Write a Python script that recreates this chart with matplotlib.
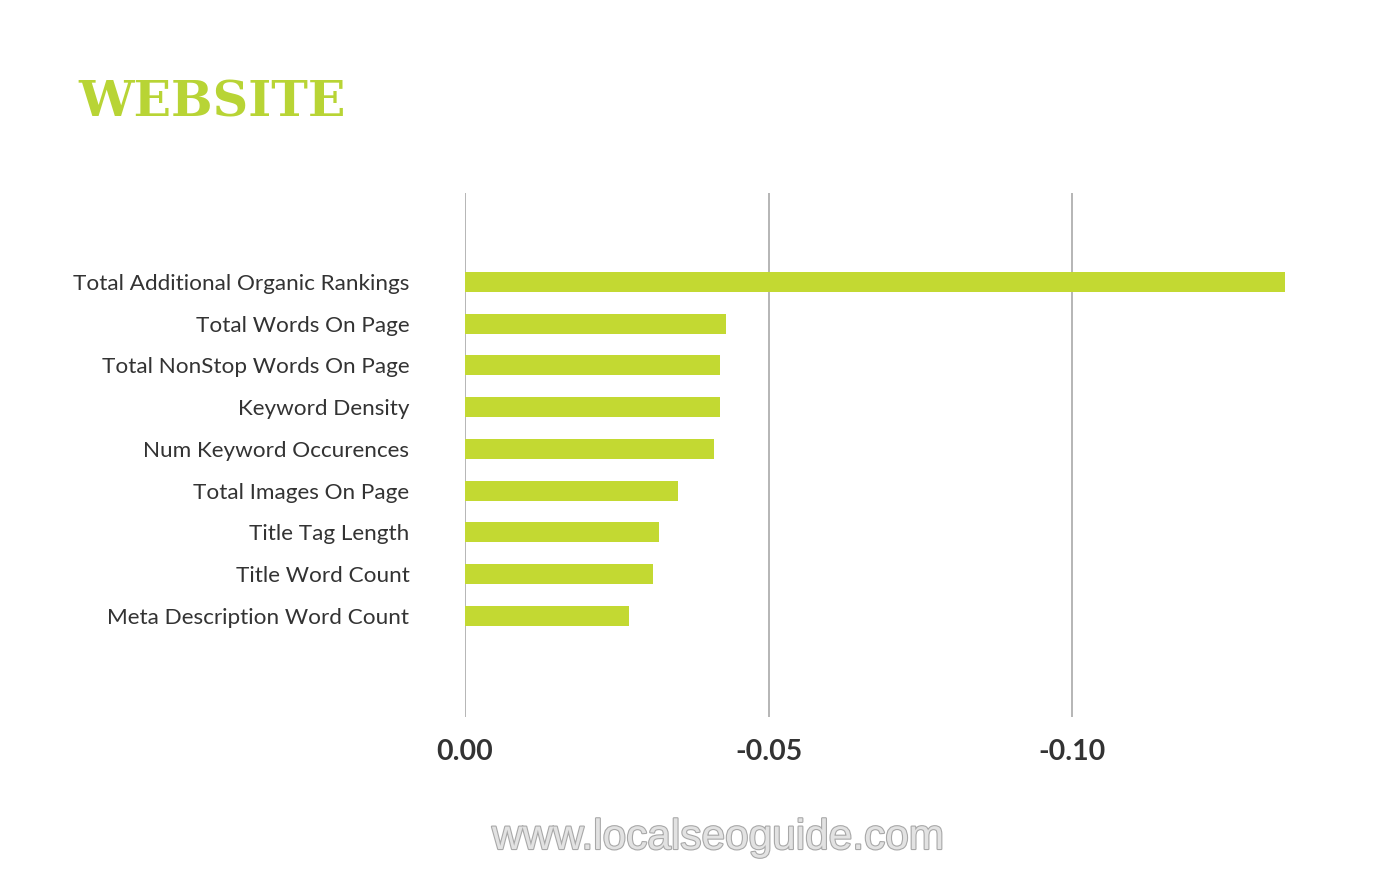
import matplotlib
matplotlib.use("Agg")
import matplotlib.pyplot as plt
import matplotlib.patheffects as pe

categories = [
    "Total Additional Organic Rankings",
    "Total Words On Page",
    "Total NonStop Words On Page",
    "Keyword Density",
    "Num Keyword Occurences",
    "Total Images On Page",
    "Title Tag Length",
    "Title Word Count",
    "Meta Description Word Count",
]
values = [-0.135, -0.043, -0.042, -0.042, -0.041, -0.035, -0.032, -0.031, -0.027]
xticks = [0.0, -0.05, -0.10]
xtick_labels = ["0.00", "-0.05", "-0.10"]

fig = plt.figure(figsize=(13.86, 8.82), dpi=100)
fig.patch.set_facecolor("white")
ax = fig.add_axes([465/1386, 1-717/882, 850/1386, (717-193)/882])

ypos = list(range(len(categories)))
ax.barh(ypos, values, height=0.48, color="#C3D932", zorder=3)
ax.set_xlim(0, -0.14)
ax.set_ylim(8 + 2.42, -2.13)
ax.set_yticks(ypos)
ax.set_yticklabels(categories, fontfamily="Lato", fontsize=16.2, color="#333333")
ax.set_xticks(xticks)
ax.set_xticklabels(xtick_labels, fontfamily="Lato", fontsize=20.5, fontweight="bold", color="#333333")
ax.tick_params(axis="y", length=0, pad=40)
ax.tick_params(axis="x", length=0, pad=16)
for s in ax.spines.values():
    s.set_visible(False)
ax.grid(axis="x", color="#b0b0b0", linewidth=1.3, zorder=0)
ax.grid(axis="y", visible=False)

fig.text(78/1386, 1-103/882, "WEBSITE", fontfamily="DejaVu Serif", fontweight="bold",
         fontsize=35.5, color="#B8D435", va="center", ha="left")

fig.text(718/1386, 1-838/882, "www.localseoguide.com", fontfamily="Liberation Sans",
         fontweight="normal", fontsize=30.5, color="#e2e2e2", ha="center", va="center",
         path_effects=[pe.withStroke(linewidth=1.6, foreground="#a8a8a8")])

fig.savefig("out.png", dpi=100, facecolor="white")
